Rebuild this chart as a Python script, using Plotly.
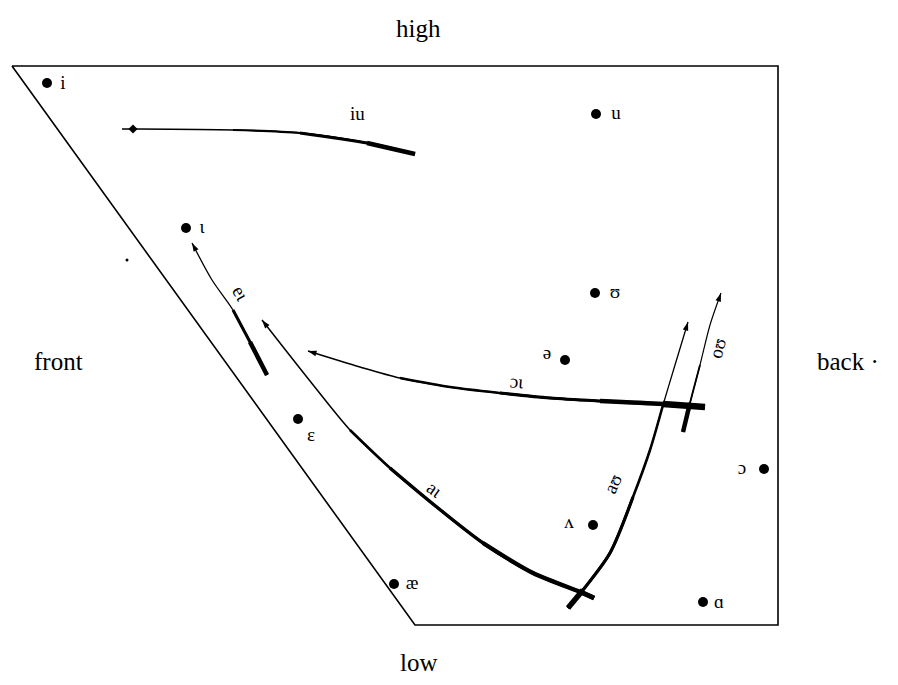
import math
import plotly.graph_objects as go

# ---- data (chart coordinates: x = frontness, y = height; page-like units) ----
chart_outline_x = [12, 778, 778, 415, 12]
chart_outline_y = [66, 66, 625, 625, 66]

vowel_symbols = ["i", "u", "ι", "ʊ", "ə", "ε", "ɔ", "ʌ", "æ", "ɑ"]
vowel_x = [47, 596, 186, 595, 565, 298, 764, 593, 394, 703]
vowel_y = [83, 114, 228, 293, 360, 419, 469, 525, 584, 602]
label_dx = [16, 20, 16, 20, -18, 13, -22, -24, 18, 16]
label_dy = [1, 0, 0, 0, -6, 17, 0, -2, 0, 1]

# diphthong trajectories (start -> end)
iu_x = [122, 133, 233, 300, 367, 415]
iu_y = [129, 129, 130, 133, 143, 154]
ei_x = [267, 250, 233, 212, 192]
ei_y = [375, 342, 310, 280, 243]
ai_x = [594, 583, 533, 483, 433, 390, 350, 310, 262]
ai_y = [598, 593, 573, 543, 504, 468, 430, 381, 320]
oi_x = [705, 663, 600, 550, 500, 450, 400, 360, 308]
oi_y = [407, 404, 401, 398, 393, 387, 378, 367, 351]
au_x = [568, 583, 610, 633, 650, 663, 675, 688]
au_y = [608, 590, 553, 497, 450, 405, 365, 322]
ou_x = [683, 690, 700, 710, 721]
ou_y = [432, 403, 365, 325, 293]

diph_labels = ["iu", "eι", "aι", "ɔι", "aʊ", "oʊ"]

fig = go.Figure()

fig.add_trace(go.Scatter(x=chart_outline_x, y=chart_outline_y, mode="lines",
                         line=dict(color="black", width=1.6), hoverinfo="skip"))

SERIF = "Liberation Serif, Times New Roman, serif"


def add_traj(xs, ys, layers, arrow=True):
    # layers: list of (number of points from start, width); drawn as splines
    for n, w in layers:
        fig.add_trace(go.Scatter(x=xs[:n], y=ys[:n], mode="lines",
                                 line=dict(color="black", width=w, shape="spline", smoothing=0.8),
                                 hoverinfo="skip"))
    if arrow:
        dx = xs[-1] - xs[-2]
        dy = ys[-1] - ys[-2]
        ang = math.degrees(math.atan2(dx, -dy))
        fig.add_trace(go.Scatter(x=[xs[-1]], y=[ys[-1]], mode="markers",
                                 marker=dict(symbol="arrow", size=9, angle=ang, color="black"),
                                 hoverinfo="skip"))


# iu thickens toward its end: draw reversed so layers start at the thick end
add_traj(iu_x[::-1], iu_y[::-1], [(6, 1.3), (4, 2.2), (3, 3.2), (2, 4.5)], arrow=False)
fig.add_trace(go.Scatter(x=[iu_x[1]], y=[iu_y[1]], mode="markers",
                         marker=dict(symbol="diamond", size=7, color="black"), hoverinfo="skip"))
add_traj(ei_x, ei_y, [(5, 1.3), (3, 3.0), (2, 4.5)])
add_traj(ai_x, ai_y, [(9, 1.5), (7, 2.6), (6, 3.4), (4, 4.2), (2, 5.0)])
add_traj(oi_x, oi_y, [(9, 1.5), (7, 2.3), (5, 3.2), (3, 4.6), (2, 6.5)])
add_traj(au_x, au_y, [(8, 1.3), (6, 2.6), (4, 3.2), (2, 5.5)])
add_traj(ou_x, ou_y, [(5, 1.2), (3, 1.8), (2, 4.5)])

fig.add_trace(go.Scatter(x=vowel_x, y=vowel_y, mode="markers",
                         marker=dict(size=10, color="black"), hoverinfo="skip"))
fig.add_trace(go.Scatter(x=[127], y=[260], mode="markers",
                         marker=dict(size=3, color="black"), hoverinfo="skip"))
fig.add_trace(go.Scatter(x=[v + d for v, d in zip(vowel_x, label_dx)],
                         y=[v + d for v, d in zip(vowel_y, label_dy)],
                         mode="text", text=vowel_symbols,
                         textfont=dict(family=SERIF, size=19, color="black"),
                         hoverinfo="skip"))

diph_pos = [(357, 113, 0), (241, 293, 60), (435, 489, 36), (517, 381, 5),
            (612, 484, -66), (717, 348, -76)]
for lab, (x, y, a) in zip(diph_labels, diph_pos):
    fig.add_annotation(x=x, y=y, text=lab, showarrow=False, textangle=a,
                       font=dict(family=SERIF, size=19, color="black"))

for txt, x, y in [("high", 418, 28), ("low", 419, 662), ("front", 58, 361), ("back ·", 848, 361)]:
    fig.add_annotation(x=x, y=y, text=txt, showarrow=False,
                       font=dict(family=SERIF, size=25, color="black"))

# the page body adds an 8px margin; the figure is sized and ranged to compensate
fig.update_layout(width=882, height=669, margin=dict(l=0, r=0, t=0, b=0),
                  plot_bgcolor="white", paper_bgcolor="white", showlegend=False,
                  xaxis=dict(range=[8, 890], visible=False, fixedrange=True),
                  yaxis=dict(range=[677, 8], visible=False, fixedrange=True))

fig.write_html("out.html")
